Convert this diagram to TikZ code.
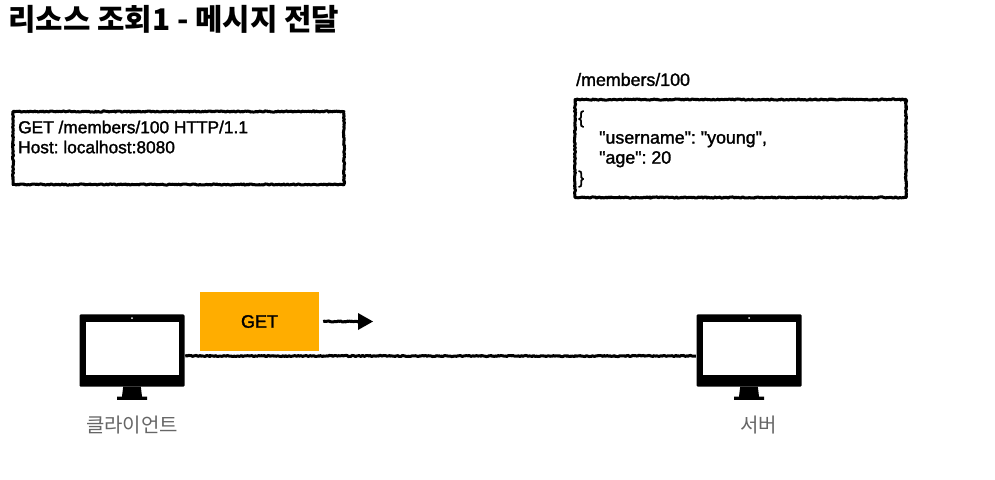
\documentclass[tikz,border=0pt]{standalone}
\usepackage{fontspec}
\newfontfamily\latinfont[FakeBold=1.6]{Liberation Sans}
\newfontfamily\krfont{Noto Sans CJK KR}
\usetikzlibrary{decorations.pathmorphing,arrows.meta,calc}
\definecolor{getorange}{HTML}{FFAD00}
\definecolor{labelgray}{HTML}{666666}
\frenchspacing
\tikzset{
  rough/.style={draw=black,line width=3pt,line join=round,decorate,decoration={random steps,segment length=1.2pt,amplitude=0.6pt,post length=4pt}},
  msgbox/.style={rough,fill=white,rectangle,inner sep=0pt},
  boxtext/.style={align=left,anchor=north west,inner sep=0pt,text=black},
  devlabel/.style={font=\krfont\fontsize{20}{24}\selectfont,text=labelgray,inner sep=0pt},
  monitorbody/.style={rectangle,fill=black,rounded corners=1.2pt,minimum width=105pt,minimum height=72.4pt,inner sep=0pt},
  monitor/.pic={
    \node[monitorbody] (-body) at (0,0) {};
    \fill[white] (-46.5,-29) rectangle (46.5,24);
    \fill[white] (0,-32.5) circle (1pt);
    \fill[black] (-8.8,36) -- (8.8,36) -- (10,46) -- (15,46) -- (15,49.3) -- (-15,49.3) -- (-15,46) -- (-10,46) -- cycle;
  }
}
\begin{document}
\begin{tikzpicture}[x=1pt,y=-1pt]
\useasboundingbox (0,0) rectangle (995,479);
\node[anchor=west,inner sep=0pt,font=\krfont\bfseries\fontsize{29.8}{34}\selectfont] (title) at (8,19.5) {리소스 조회1 - 메시지 전달};

\node[msgbox,minimum width=331pt,minimum height=73pt] (req) at (178.5,148) {};
\node[boxtext,font=\latinfont\fontsize{17.3}{20}\selectfont] (reqtext) at (18,120.5) {GET /members/100 HTTP/1.1\\Host: localhost:8080};

\node[anchor=west,inner sep=0pt,font=\latinfont\fontsize{17.8}{20}\selectfont] (path) at (576,79.5) {/members/100};
\node[msgbox,minimum width=331pt,minimum height=98pt] (res) at (740.5,148.5) {};
\node[boxtext,font=\latinfont\fontsize{17.8}{20}\selectfont] (resbrace) at (578,110.5) {\{\\\hspace*{21pt}"username": "young",\\\hspace*{21pt}"age": 20\\\}};

\pic (client) at (132,350.5) {monitor};
\pic (server) at (749,350.5) {monitor};
\node[devlabel] (clientlabel) at (132,425) {클라이언트};
\node[devlabel] (serverlabel) at (758.5,425) {서버};

\draw[rough] ($(client-body.east)+(0.5,5.5)$) -- ($(server-body.west)+(-0.5,5.5)$);

\node[fill=getorange,minimum width=119pt,minimum height=59pt,inner sep=0pt,font=\latinfont\fontsize{18}{20}\selectfont] (get) at (259.5,321.5) {GET};
\coordinate (tipend) at (373,321.5);
\draw[rough,-{Triangle[length=15pt,width=17pt,line width=0pt,round]}] ($(get.east)+(4,0)$) -- (tipend);
\end{tikzpicture}
\end{document}
